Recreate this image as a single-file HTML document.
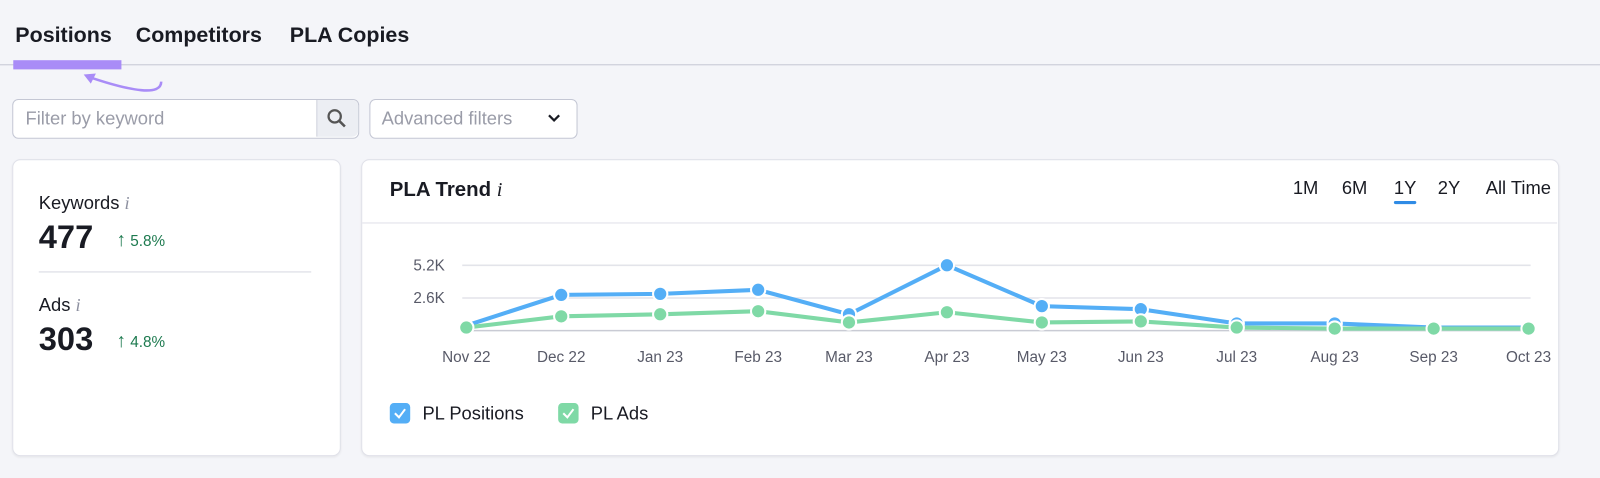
<!DOCTYPE html>
<html><head><meta charset="utf-8"><style>
body{margin:0;width:1600px;height:468px;background:#f4f5f9;font-family:"Liberation Sans",sans-serif;overflow:hidden;color:#191b23}
#w{position:absolute;left:0;top:0;width:1568px;height:459px;transform:scale(1.0204);transform-origin:0 0}
.a{position:absolute}
.card{position:absolute;background:#fff;border:1px solid #e0e1e9;border-radius:8px;box-shadow:0 1px 2px rgba(0,0,0,.06)}
</style></head><body><div id="w">
<div class="a" style="left:15px;top:23px;font-size:21px;font-weight:bold">Positions</div>
<div class="a" style="left:133px;top:23px;font-size:21px;font-weight:bold">Competitors</div>
<div class="a" style="left:284px;top:23px;font-size:21px;font-weight:bold">PLA Copies</div>
<div class="a" style="left:0;top:63px;width:1600px;height:1px;background:#c4c7d4"></div>
<div class="a" style="left:13px;top:59px;width:106px;height:9px;background:#a98cf7"></div>
<svg class="a" style="left:70px;top:68px" width="100" height="30"><path d="M88 12 C88 26 60 22 16 7" stroke="#a98cf7" stroke-width="2.5" fill="none"/><path d="M12 5 L24 4 L19 14 Z" fill="#a98cf7"/></svg>
<div class="a" style="left:12px;top:97px;width:338px;height:37px;border:1px solid #c4c7d4;border-radius:6px;background:#fff"></div>
<div class="a" style="left:310px;top:98px;width:40px;height:36px;background:#eceef3;border-left:1px solid #c4c7d4;border-radius:0 6px 6px 0"></div>
<svg class="a" style="left:319px;top:105px" width="22" height="22"><circle cx="9" cy="9" r="6" stroke="#555" stroke-width="2.2" fill="none"/><line x1="13.5" y1="13.5" x2="19" y2="19" stroke="#555" stroke-width="2.5"/></svg>
<div class="a" style="left:25px;top:106px;font-size:18px;color:#9a9ca8">Filter by keyword</div>
<div class="a" style="left:362px;top:97px;width:202px;height:37px;border:1px solid #c4c7d4;border-radius:6px;background:#fff"></div>
<div class="a" style="left:374px;top:106px;font-size:18px;color:#9a9ca8">Advanced filters</div>
<svg class="a" style="left:535px;top:110px" width="16" height="12"><path d="M3 3 L8 8 L13 3" stroke="#191b23" stroke-width="2.2" fill="none"/></svg>

<div class="card" style="left:12px;top:156px;width:320px;height:289px"></div>
<div class="a" style="left:38px;top:189px;font-size:18px">Keywords <i style="color:#8d90a0;font-family:'Liberation Serif',serif">i</i></div>
<div class="a" style="left:38px;top:214px;font-size:32px;font-weight:bold">477</div>
<div class="a" style="left:114px;top:225px;font-size:15px;color:#1d7a4f"><b style="font-size:19px">↑</b> 5.8%</div>
<div class="a" style="left:38px;top:266px;width:267px;height:1px;background:#d6d8e0"></div>
<div class="a" style="left:38px;top:289px;font-size:18px">Ads <i style="color:#8d90a0;font-family:'Liberation Serif',serif">i</i></div>
<div class="a" style="left:38px;top:314px;font-size:32px;font-weight:bold">303</div>
<div class="a" style="left:114px;top:324px;font-size:15px;color:#1d7a4f"><b style="font-size:19px">↑</b> 4.8%</div>

<div class="card" style="left:354px;top:156px;width:1172px;height:289px"></div>
<div class="a" style="left:382px;top:175px;font-size:20px;font-weight:bold">PLA Trend <i style="font-family:'Liberation Serif',serif;font-weight:normal">i</i></div>
<div class="a" style="left:1267px;top:174px;font-size:18px">1M</div>
<div class="a" style="left:1315px;top:174px;font-size:18px">6M</div>
<div class="a" style="left:1366px;top:174px;font-size:18px">1Y</div>
<div class="a" style="left:1366px;top:197px;width:22px;height:3px;background:#2f8be5;border-radius:2px"></div>
<div class="a" style="left:1409px;top:174px;font-size:18px">2Y</div>
<div class="a" style="left:1456px;top:174px;font-size:18px">All Time</div>
<div class="a" style="left:355px;top:218px;width:1171px;height:1px;background:#e0e1e9"></div>

<svg class="a" style="left:0;top:0" width="1600" height="468">
<g stroke="#e3e4ea" stroke-width="1.5"><line x1="453" y1="260" x2="1500" y2="260"/><line x1="453" y1="292" x2="1500" y2="292"/></g>
<line x1="453" y1="324" x2="1500" y2="324" stroke="#c9cbd4" stroke-width="1.5"/>
<g font-size="15" fill="#585a68" font-family="Liberation Sans">
<text x="436" y="265" text-anchor="end">5.2K</text><text x="436" y="297" text-anchor="end">2.6K</text>
<g text-anchor="middle"><text x="457" y="355">Nov 22</text><text x="550" y="355">Dec 22</text><text x="647" y="355">Jan 23</text><text x="743" y="355">Feb 23</text><text x="832" y="355">Mar 23</text><text x="928" y="355">Apr 23</text><text x="1021" y="355">May 23</text><text x="1118" y="355">Jun 23</text><text x="1212" y="355">Jul 23</text><text x="1308" y="355">Aug 23</text><text x="1405" y="355">Sep 23</text><text x="1498" y="355">Oct 23</text></g></g>
<polyline fill="none" stroke="#54aef6" stroke-width="4" points="457,319 550,289 647,288 743,284 832,308 928,260 1021,300 1118,303 1212,317 1308,317 1405,321 1498,321"/>
<polyline fill="none" stroke="#7fd9a6" stroke-width="4" points="457,321 550,310 647,308 743,305 832,316 928,306 1021,316 1118,315 1212,321 1308,322 1405,322 1498,322"/>
<g fill="#54aef6" stroke="#fff" stroke-width="2"><circle cx="550" cy="289" r="7"/><circle cx="647" cy="288" r="7"/><circle cx="743" cy="284" r="7"/><circle cx="832" cy="308" r="7"/><circle cx="928" cy="260" r="7"/><circle cx="1021" cy="300" r="7"/><circle cx="1118" cy="303" r="7"/><circle cx="1212" cy="317" r="7"/><circle cx="1308" cy="317" r="7"/></g>
<g fill="#7fd9a6" stroke="#fff" stroke-width="2"><circle cx="457" cy="321" r="7"/><circle cx="550" cy="310" r="7"/><circle cx="647" cy="308" r="7"/><circle cx="743" cy="305" r="7"/><circle cx="832" cy="316" r="7"/><circle cx="928" cy="306" r="7"/><circle cx="1021" cy="316" r="7"/><circle cx="1118" cy="315" r="7"/><circle cx="1212" cy="321" r="7"/><circle cx="1308" cy="322" r="7"/><circle cx="1405" cy="322" r="7"/><circle cx="1498" cy="322" r="7"/></g>
<rect x="382" y="395" width="20" height="20" rx="4" fill="#54aef6"/><path d="M387 405 L391 409 L397 401" stroke="#fff" stroke-width="2" fill="none"/>
<rect x="547" y="395" width="20" height="20" rx="4" fill="#7fd9a6"/><path d="M552 405 L556 409 L562 401" stroke="#fff" stroke-width="2" fill="none"/>
<text x="414" y="411" font-size="18" fill="#191b23" font-family="Liberation Sans">PL Positions</text>
<text x="579" y="411" font-size="18" fill="#191b23" font-family="Liberation Sans">PL Ads</text>
</svg>
</div></body></html>
